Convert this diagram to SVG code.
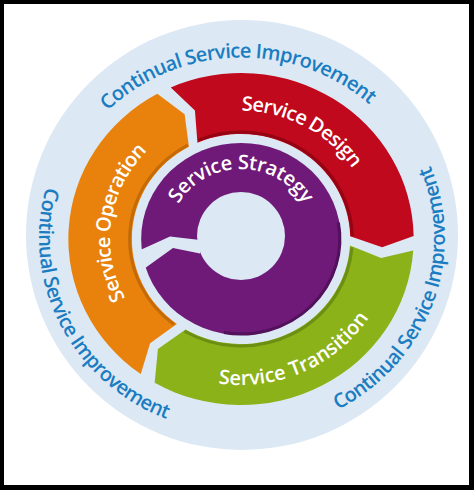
<svg xmlns="http://www.w3.org/2000/svg" width="474" height="490" viewBox="0 0 474 490">
<style>
.lbl{font-family:"Open Sans","Liberation Sans",sans-serif;font-weight:600;font-size:20px;fill:#ffffff}
.csi{font-family:"Open Sans","Liberation Sans",sans-serif;font-weight:600;font-size:20px;fill:#1a7cc1}
.bg{fill:#dce8f4}
.rim{fill:none;stroke-width:3}
</style>
<defs>
<path id="p-csi-top" d="M 51.1 242.8 A 191 184 0 0 1 432.9 233.2"/>
<path id="p-csi-left" d="M 153 62.7 A 203 195 0 0 0 331 413.3"/>
<path id="p-csi-right" d="M 173.9 421.7 A 203 195 0 0 0 310.1 54.3"/>
<path id="p-strategy" d="M 169.2 238 A 71.8 69 0 0 1 312.8 238"/>
<path id="p-design" d="M 122.2 175 A 136.2 131 0 0 1 359.8 303"/>
<path id="p-transition" d="M 103.4 300.7 A 151.8 146 0 0 0 378.6 177.3"/>
<path id="p-operation" d="M 222.8 363.8 A 131 126 0 0 1 259.2 114.2"/>
</defs>
<rect x="0" y="0" width="474" height="490" fill="#000000"/>
<rect x="4" y="4" width="465" height="481" fill="#ffffff"/>
<g id="continual-service-improvement">
<ellipse class="bg" cx="242" cy="235" rx="216" ry="215"/>
<text class="csi" text-anchor="middle"><textPath href="#p-csi-top" startOffset="50%" textLength="287" lengthAdjust="spacing">Continual Service Improvement</textPath></text>
<text class="csi" text-anchor="middle"><textPath href="#p-csi-left" startOffset="50%" textLength="287" lengthAdjust="spacing">Continual Service Improvement</textPath></text>
<text class="csi" text-anchor="middle"><textPath href="#p-csi-right" startOffset="50%" textLength="287" lengthAdjust="spacing">Continual Service Improvement</textPath></text>
</g>
<g id="service-operation">
<g transform="translate(241 239) scale(1.04 1)">
<path fill="#e8820c" d="M -96.4 135.1 L -87.4 104.2 L -61.7 84.9 A 105 105 0 0 1 -50.1 -92.3 L -54.2 -124.7 L -80.5 -145.2 A 166 166 0 0 0 -96.4 135.1 Z"/>
<path class="rim" stroke="#c46a06" d="M -64.4 85.5 A 107 107 0 0 1 -51.1 -94"/>
</g>
<text class="lbl" text-anchor="middle"><textPath href="#p-operation" startOffset="50%" textLength="160" lengthAdjust="spacing">Service Operation</textPath></text>
</g>
<g id="service-design">
<g transform="translate(241 239) scale(1.04 1)">
<path fill="#c0091c" d="M -67.5 -151.6 L -44.3 -128.6 L -41.9 -96.3 A 105 105 0 0 1 105 -2.7 L 135.7 8.3 L 166 -2.9 A 166 166 0 0 0 -67.5 -151.6 Z"/>
<path class="rim" stroke="#960414" d="M -40.9 -98.9 A 107 107 0 0 1 107 -2.8"/>
</g>
<text class="lbl" text-anchor="middle"><textPath href="#p-design" startOffset="50%" textLength="130" lengthAdjust="spacing">Service Design</textPath></text>
</g>
<g id="service-transition">
<g transform="translate(241 239) scale(1.04 1)">
<path fill="#8cb21a" d="M 165.6 11.6 L 134.7 18.9 L 104.8 6.4 A 105 105 0 0 1 -53.3 90.5 L -79.9 110 L -83 143.8 A 166 166 0 0 0 165.6 11.6 Z"/>
<path class="rim" stroke="#6c8e12" d="M 106.7 8.4 A 107 107 0 0 1 -54.3 92.2"/>
</g>
<text class="lbl" text-anchor="middle"><textPath href="#p-transition" startOffset="50%" textLength="173" lengthAdjust="spacing">Service Transition</textPath></text>
</g>
<g id="service-strategy">
<g transform="translate(241 239) scale(1.04 1)">
<circle r="96" fill="#6f1a78"/>
<path class="rim" stroke="#53115b" d="M 93.6 -16.5 A 95 95 0 0 1 -16.5 93.6"/>
</g>
<circle class="bg" cx="241" cy="236" r="44"/>
<polygon class="bg" points="137,251.5 170,236.5 200,240 200,253.5 173,248 141,271"/>
<text class="lbl" text-anchor="middle"><textPath href="#p-strategy" startOffset="50%" textLength="150" lengthAdjust="spacing">Service Strategy</textPath></text>
</g>
</svg>
